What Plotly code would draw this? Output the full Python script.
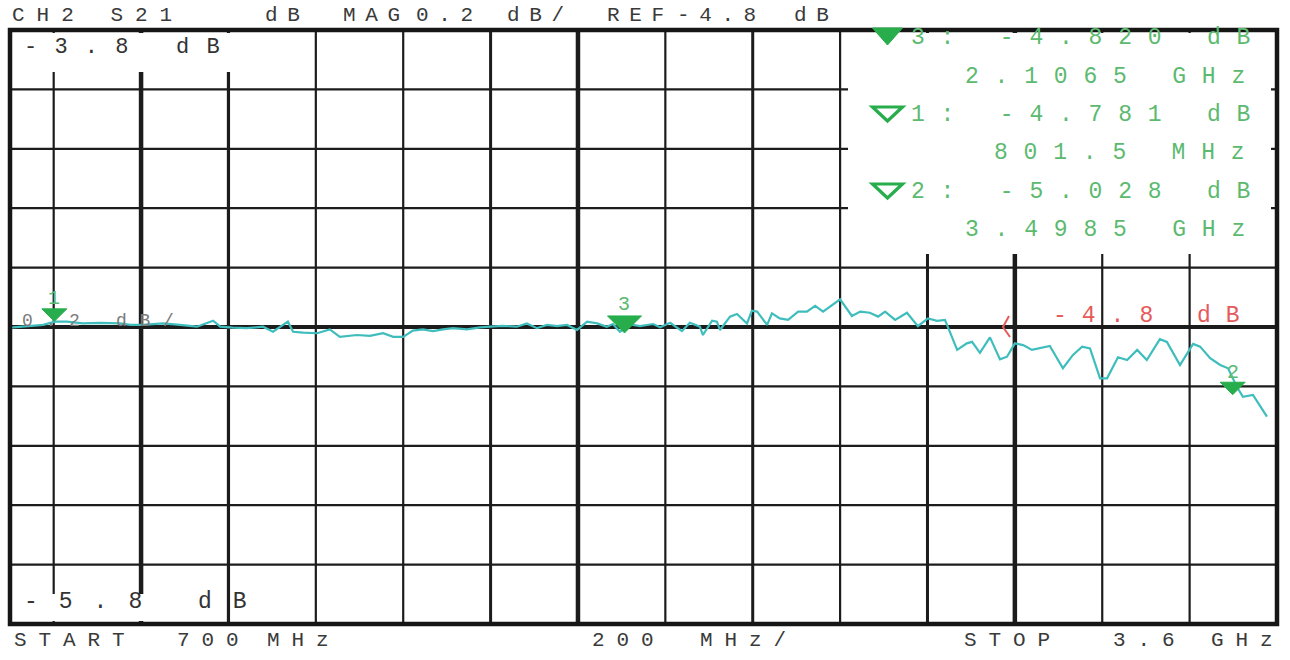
import plotly.graph_objects as go

# ---------------- data ----------------
freq_mhz = [700, 723, 776, 803, 830, 867, 906, 952, 975, 1004, 1050, 1089, 1128, 1165, 1181,
            1210, 1242, 1279, 1302, 1336, 1348, 1371, 1403, 1432, 1455, 1494, 1524, 1554, 1577,
            1600, 1622, 1645, 1668, 1691, 1714, 1746, 1776, 1799, 1828, 1860, 1883, 1906, 1929,
            1952, 1975, 1998, 2021, 2044, 2066, 2080, 2096, 2119, 2142, 2172, 2188, 2211, 2238,
            2256, 2279, 2286, 2307, 2318, 2325, 2348, 2364, 2387, 2398, 2410, 2433, 2444, 2462,
            2481, 2504, 2524, 2543, 2561, 2581, 2600, 2627, 2646, 2668, 2687, 2703, 2726, 2753,
            2778, 2801, 2822, 2840, 2868, 2890, 2902, 2920, 2943, 2966, 2982, 3000, 3019, 3039,
            3058, 3080, 3110, 3133, 3154, 3172, 3195, 3211, 3236, 3257, 3280, 3302, 3332, 3348,
            3378, 3408, 3424, 3447, 3470, 3488, 3508, 3522, 3545, 3577]
s21_db = [-4.802, -4.799, -4.793, -4.782, -4.782, -4.788, -4.786, -4.788, -4.793, -4.793,
          -4.788, -4.793, -4.799, -4.779, -4.799, -4.802, -4.804, -4.799, -4.816, -4.782,
          -4.816, -4.819, -4.821, -4.808, -4.833, -4.827, -4.830, -4.821, -4.833, -4.833,
          -4.812, -4.808, -4.814, -4.808, -4.804, -4.808, -4.801, -4.799, -4.796, -4.799,
          -4.788, -4.804, -4.793, -4.797, -4.793, -4.810, -4.782, -4.788, -4.799, -4.790,
          -4.816, -4.791, -4.797, -4.790, -4.801, -4.786, -4.814, -4.786, -4.799, -4.827,
          -4.779, -4.782, -4.810, -4.765, -4.756, -4.788, -4.745, -4.748, -4.793, -4.754,
          -4.771, -4.776, -4.748, -4.748, -4.729, -4.748, -4.726, -4.707, -4.763, -4.748,
          -4.752, -4.765, -4.748, -4.776, -4.752, -4.797, -4.771, -4.779, -4.776, -4.877,
          -4.855, -4.850, -4.887, -4.835, -4.909, -4.900, -4.855, -4.861, -4.877, -4.872,
          -4.864, -4.939, -4.894, -4.866, -4.872, -4.973, -4.973, -4.902, -4.911, -4.877,
          -4.911, -4.841, -4.850, -4.928, -4.857, -4.866, -4.905, -4.928, -4.939, -5.001,
          -5.035, -5.029, -5.102]

x_start_mhz = 700
x_stop_mhz = 3600
x_grid_first_mhz = 800
x_div_mhz = 200
ref_db = -4.8
db_per_div = 0.2
n_ydiv = 10

marker_ids = ["1", "2", "3"]
marker_freq_mhz = [801.5, 3498.5, 2106.5]
marker_db = [-4.781, -5.028, -4.820]
active_marker = "3"

header_words = ["CH2 S21", "dB", "MAG", "0.2", "dB/", "REF", "-4.8", "dB"]
footer_words = ["START", "700", "MHz", "200", "MHz/", "STOP", "3.6", "GHz"]
scale_label = "0.2 dB/"

# ---------------- geometry ----------------
W, H = 1290, 660
L, T, R, B = 10, 30, 13, 36
PW, PH = W - L - R, H - T - B
y_top = ref_db + db_per_div * n_ydiv / 2
y_bot = ref_db - db_per_div * n_ydiv / 2


def px(xp):
    return (xp - L) / PW


def py(yp):
    return 1 - (yp - T) / PH


FONT = "Liberation Mono"
GRID = "#1c1c1c"
GREEN = "#27ad4b"
GREEN_TXT = "#5cba70"
RED = "#e55a5a"
TEAL = "#3fbdbd"


def spaced(s, ls):
    return '<span style="letter-spacing:%.1fpx">%s</span>' % (ls, s)


fig = go.Figure()
fig.add_trace(go.Scatter(x=freq_mhz, y=s21_db, mode="lines",
                         line=dict(color=TEAL, width=2.2), hoverinfo="skip",
                         showlegend=False))

shapes = []
# vertical grid
thick = {1000: 4.5, 1200: 3.2, 1800: 3.0, 2000: 4.5, 2400: 3.0, 2800: 3.0, 3000: 4.5}
f = x_grid_first_mhz
while f < x_stop_mhz:
    shapes.append(dict(type="line", xref="x", yref="paper", x0=f, x1=f, y0=0, y1=1,
                       line=dict(color=GRID, width=thick.get(f, 2.2)), layer="below"))
    f += x_div_mhz
# horizontal grid
for k in range(1, n_ydiv):
    yv = y_bot + k * db_per_div
    shapes.append(dict(type="line", xref="paper", yref="y", x0=0, x1=1, y0=yv, y1=yv,
                       line=dict(color=GRID, width=4.0 if k == n_ydiv // 2 else 2.2),
                       layer="below"))
# white label boxes
for (x0, y0, x1, y1) in [(12, 33, 232, 72), (12, 594, 226, 621), (848, 33, 1271, 254)]:
    shapes.append(dict(type="rect", xref="paper", yref="paper", x0=px(x0), x1=px(x1),
                       y0=py(y1), y1=py(y0), fillcolor="white", line=dict(width=0),
                       layer="below"))
# frame
shapes.append(dict(type="rect", xref="paper", yref="paper", x0=0, x1=1, y0=0, y1=1,
                   line=dict(color="#161616", width=4.5), layer="above"))

# marker triangles on trace (tip at marker reading)
annotations = []
for mid, mf, mv in zip(marker_ids, marker_freq_mhz, marker_db):
    w, h = (34, 17) if mid == active_marker else (25, 12.5)
    shapes.append(dict(type="path", xref="x", yref="y", xsizemode="pixel", ysizemode="pixel",
                       xanchor=mf, yanchor=mv,
                       path="M %.1f,%.1f L %.1f,%.1f L 0,0 Z" % (-w / 2, h, w / 2, h),
                       fillcolor=GREEN, line=dict(color=GREEN, width=1), layer="above"))
    annotations.append(dict(x=mf, y=mv, xref="x", yref="y", text=mid, showarrow=False,
                            xanchor="center", yanchor="middle",
                            yshift=(h + 11) if mid == active_marker else (h + 10),
                            font=dict(family=FONT, size=20, color=GREEN_TXT)))

# reference level indicator
shapes.append(dict(type="path", xref="paper", yref="y", xsizemode="pixel", ysizemode="pixel",
                   xanchor=px(1008), yanchor=ref_db,
                   path="M 1,11 L -5,0 L 2,-10", line=dict(color=RED, width=2),
                   layer="above"))

# marker readout box
order = [active_marker] + [m for m in marker_ids if m != active_marker]


def fmt_freq(fm):
    return "%.4f GHz" % (fm / 1000) if fm >= 1000 else "%.1f MHz" % fm


BOX_SIZE = 23
BOX_ADV = 0.6 * BOX_SIZE
BOX_PITCH = 29.6
row_y = [38, 77, 115, 153, 192, 230]
for i, mid in enumerate(order):
    j = marker_ids.index(mid)
    line1 = "%s: %.3f dB" % (mid, marker_db[j])
    line2 = fmt_freq(marker_freq_mhz[j])
    y1p, y2p = row_y[2 * i], row_y[2 * i + 1]
    annotations.append(dict(x=px(909), y=py(y1p), xref="paper", yref="paper",
                            text=spaced(line1, BOX_PITCH - BOX_ADV), showarrow=False,
                            xanchor="left", yanchor="middle",
                            font=dict(family=FONT, size=BOX_SIZE, color=GREEN_TXT)))
    x2 = 1243 - (len(line2) - 1) * BOX_PITCH - BOX_ADV
    annotations.append(dict(x=px(x2), y=py(y2p), xref="paper", yref="paper",
                            text=spaced(line2, BOX_PITCH - BOX_ADV), showarrow=False,
                            xanchor="left", yanchor="middle",
                            font=dict(family=FONT, size=BOX_SIZE, color=GREEN_TXT)))
    filled = mid == active_marker
    tip_y = y1p + (7 if filled else 6)
    shapes.append(dict(type="path", xref="paper", yref="paper", xsizemode="pixel",
                       ysizemode="pixel", xanchor=px(887.5), yanchor=py(tip_y),
                       path="M -15,%d L 15,%d L 0,0 Z" % ((17, 17) if filled else (14, 14)),
                       fillcolor=GREEN if filled else "rgba(0,0,0,0)",
                       line=dict(color=GREEN, width=1 if filled else 3.2), layer="above"))

# header / footer
TXT = "#3a3a3a"
header_x = [10, 263, 341, 414, 505, 605, 675, 792]
for wtxt, xp in zip(header_words, header_x):
    annotations.append(dict(x=px(xp), y=py(16), xref="paper", yref="paper",
                            text=spaced(wtxt, 12.0 if wtxt == "CH2 S21" else 9.6),
                            showarrow=False, xanchor="left", yanchor="middle",
                            font=dict(family=FONT, size=21, color=TXT)))
footer_x = [12, 175, 265, 590, 698, 962, 1111, 1209]
for wtxt, xp in zip(footer_words, footer_x):
    annotations.append(dict(x=px(xp), y=py(640), xref="paper", yref="paper",
                            text=spaced(wtxt, 11.9), showarrow=False,
                            xanchor="left", yanchor="middle",
                            font=dict(family=FONT, size=21, color=TXT)))

# in-grid labels
annotations.append(dict(x=px(22), y=py(48), xref="paper", yref="paper",
                        text=spaced("%.1f dB" % y_top, 17.2), showarrow=False,
                        xanchor="left", yanchor="middle",
                        font=dict(family=FONT, size=22, color="#333333")))
annotations.append(dict(x=px(22), y=py(602), xref="paper", yref="paper",
                        text=spaced("%.1f dB" % y_bot, 21.0), showarrow=False,
                        xanchor="left", yanchor="middle",
                        font=dict(family=FONT, size=23, color="#333333")))
annotations.append(dict(x=px(20), y=py(321), xref="paper", yref="paper",
                        text=spaced(scale_label, 12.7), showarrow=False,
                        xanchor="left", yanchor="middle",
                        font=dict(family=FONT, size=18, color="#7a7a7a")))
annotations.append(dict(x=px(1051), y=py(316), xref="paper", yref="paper",
                        text=spaced("%.1f dB" % ref_db, 15.0), showarrow=False,
                        xanchor="left", yanchor="middle",
                        font=dict(family=FONT, size=23, color=RED)))

fig.update_layout(
    width=W, height=H, autosize=False,
    margin=dict(l=L, r=R, t=T, b=B, pad=0),
    paper_bgcolor="white", plot_bgcolor="white",
    xaxis=dict(range=[x_start_mhz, x_stop_mhz], showgrid=False, zeroline=False,
               showticklabels=False, ticks="", showline=False, fixedrange=True),
    yaxis=dict(range=[y_bot, y_top], showgrid=False, zeroline=False,
               showticklabels=False, ticks="", showline=False, fixedrange=True),
    shapes=shapes, annotations=annotations, showlegend=False,
)

fig.write_html("out.html", config={"displayModeBar": False},
               post_script="document.body.style.margin='0';document.body.style.overflow='hidden';")
